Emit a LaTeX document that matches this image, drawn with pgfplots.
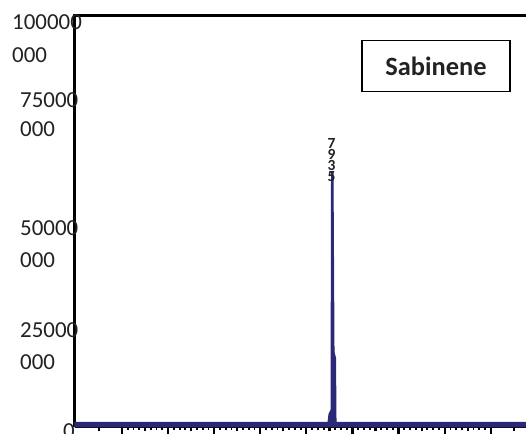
\documentclass[border=0pt]{standalone}
\usepackage{fontspec}
\setmainfont{Carlito}
\usepackage{pgfplots}
\pgfplotsset{compat=1.18}
\definecolor{navy}{RGB}{44,40,120}
\definecolor{txt}{RGB}{34,34,34}
\begin{document}
\begin{tikzpicture}
\begin{axis}[
  scale only axis, width=451bp, height=411bp,
  xmin=-0.02, xmax=9.7643, ymin=0, ymax=100000000,
  axis x line*=bottom, axis y line*=left,
  axis line style={-, line width=3bp, black},
  tick align=outside,
  xtick={1,2,3,4,5,6,7,8,9}, xticklabels={},
  minor x tick num=7,
  extra x ticks={0.5,1.5,2.5,3.5,4.5,5.5,6.5,7.5,8.5,9.5},
  extra x tick labels={},
  extra x tick style={major tick length=4.5bp},
  ytick=\empty,
  minor ytick={0,5000000,...,100000000},
  major tick length=7bp, minor tick length=3bp,
  major tick style={line width=2.2bp, black},
  minor tick style={line width=1.8bp, black},
  scaled y ticks=false,
  clip=false,
]
\addplot[draw=navy, fill=navy, line width=1bp] coordinates {
 (-0.02,1095000) (5.4691,1095000) (5.4909,3160000) (5.5343,4140000)
 (5.5452,62040000) (5.5778,62040000) (5.5996,18250000) (5.6322,16790000)
 (5.6430,1095000) (9.7643,1095000)
} \closedcycle;
\draw[line width=3bp, black] ([xshift=-1.5bp]rel axis cs:0,1) -- (rel axis cs:1,1);
\node[font=\fontsize{15.5}{8.2}\selectfont\bfseries, align=center, inner sep=0, text=txt]
  at (rel axis cs:0.56874,0.64964) {7\\9\\3\\5};
\node[draw, line width=1.5bp, minimum width=148bp, minimum height=51bp, inner sep=0,
  font=\fontsize{26.5}{30}\selectfont\bfseries, text=txt]
  at (rel axis cs:0.80044,0.87835) {Sabinene};
\begin{scope}[every node/.style={anchor=west, inner sep=0, font=\fontsize{23}{26}\selectfont, text=txt}]
\node at (rel axis cs:-0.13969,0.98418) {100000};
\node at (rel axis cs:-0.13969,0.90511) {000};
\node at (rel axis cs:-0.12195,0.79440) {75000};
\node at (rel axis cs:-0.12195,0.72384) {000};
\node at (rel axis cs:-0.12195,0.48418) {50000};
\node at (rel axis cs:-0.12195,0.40633) {000};
\node at (rel axis cs:-0.12195,0.23601) {25000};
\node at (rel axis cs:-0.12195,0.15815) {000};
\node at (rel axis cs:-0.02661,-0.01095) {0};
\end{scope}
\end{axis}
\pgfresetboundingbox
\path ([xshift=-75bp,yshift=-7bp]current axis.south west) rectangle ([yshift=16bp]current axis.north east);
\end{tikzpicture}
\end{document}
